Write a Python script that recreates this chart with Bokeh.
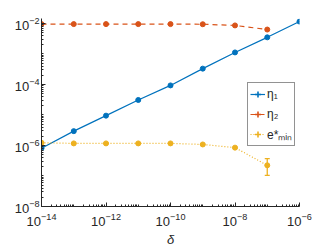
from bokeh.plotting import figure
from bokeh.models import (ColumnDataSource, FixedTicker, Legend, LegendItem, Whisker, TeeHead)
from bokeh.embed import file_html
from bokeh.resources import INLINE

# data
delta = [1e-14, 1e-13, 1e-12, 1e-11, 1e-10, 1e-9, 1e-8, 1e-7, 1e-6]
eta1 = [8.1e-7, 2.95e-6, 9.5e-6, 3.1e-5, 9.3e-5, 3.3e-4, 1.12e-3, 3.5e-3, 1.15e-2]
delta2 = [1e-14, 1e-13, 1e-12, 1e-11, 1e-10, 1e-9, 1e-8, 1e-7]
eta2 = [9.5e-3, 9.5e-3, 9.5e-3, 9.5e-3, 9.5e-3, 9.4e-3, 8.6e-3, 6.3e-3]
emin = [1.23e-6, 1.17e-6, 1.17e-6, 1.17e-6, 1.17e-6, 1.08e-6, 8.5e-7, 2.24e-7]
emin_lo = [1.2e-6, 1.15e-6, 1.15e-6, 1.15e-6, 1.15e-6, 1.05e-6, 8.2e-7, 1.05e-7]
emin_hi = [1.26e-6, 1.19e-6, 1.19e-6, 1.19e-6, 1.19e-6, 1.11e-6, 8.8e-7, 3.7e-7]

x_major = [1e-14, 1e-12, 1e-10, 1e-8, 1e-6]
y_major = [1e-8, 1e-6, 1e-4, 1e-2]
labels = ["\u03b7\u2081", "\u03b7\u2082", "e*\u2098\u1d62\u2099"]

BLUE, ORANGE, YELLOW = "#0072BD", "#D95319", "#EDB120"
AX = "#262626"
FONT = "Liberation Sans"

def minors(lo, hi):
    out = []
    for k in range(lo, hi + 1):
        for m in range(1, 10):
            out.append(m * 10.0 ** k)
    return out

p = figure(width=316, height=241, frame_width=258, frame_height=188,
           x_axis_type="log", y_axis_type="log",
           x_range=(1e-14, 1e-6), y_range=(1e-8, 1.45e-2),
           output_backend="svg", toolbar_location=None,
           min_border_left=41, min_border_right=17, min_border_top=18, min_border_bottom=35)
p.outline_line_color = None
p.grid.visible = False
p.background_fill_color = "white"

p.xaxis.ticker = FixedTicker(ticks=x_major, minor_ticks=minors(-14, -7))
p.yaxis.ticker = FixedTicker(ticks=y_major, minor_ticks=minors(-8, -2))
for ax in (p.xaxis, p.yaxis):
    ax.axis_line_color = AX
    ax.major_tick_line_color = AX
    ax.minor_tick_line_color = AX
    ax.major_tick_in = 4
    ax.major_tick_out = 0
    ax.minor_tick_in = 2
    ax.minor_tick_out = 0
    ax.major_label_text_font = FONT
    ax.major_label_text_font_size = "13px"
    ax.major_label_text_color = AX
p.xaxis.major_label_standoff = 6
p.yaxis.major_label_standoff = 2
p.xaxis.axis_label = "\u03b4"
p.xaxis.axis_label_text_font = FONT
p.xaxis.axis_label_text_font_style = "italic"
p.xaxis.axis_label_text_font_size = "13px"
p.xaxis.axis_label_text_color = AX
p.xaxis.axis_label_standoff = 3

# series
r1l = p.line(delta, eta1, line_color=BLUE, line_width=1.2)
r1s = p.scatter(delta, eta1, size=5, fill_color=BLUE, line_color=BLUE)
r2l = p.line(delta2, eta2, line_color=ORANGE, line_width=1.2, line_dash="5 4")
r2s = p.scatter(delta2, eta2, size=5, fill_color=ORANGE, line_color=ORANGE)
r3l = p.line(delta2, emin, line_color=YELLOW, line_width=1.2, line_dash="1 2")
r3s = p.scatter(delta2, emin, size=5, fill_color=YELLOW, line_color=YELLOW)

src = ColumnDataSource(dict(x=delta2, lo=emin_lo, hi=emin_hi))
p.add_layout(Whisker(source=src, base="x", lower="lo", upper="hi", dimension="height",
                     line_color=YELLOW, line_width=1.3,
                     upper_head=TeeHead(size=5, line_color=YELLOW, line_width=1.3),
                     lower_head=TeeHead(size=5, line_color=YELLOW, line_width=1.3)))

# legend error-bar glyphs (one point far outside the visible range)
off = [1e-30]
e1 = p.scatter(off, off, marker="cross", size=10, line_color=BLUE, line_width=1.6)
e2 = p.scatter(off, off, marker="cross", size=10, line_color=ORANGE, line_width=1.6)
e3 = p.scatter(off, off, marker="cross", size=10, line_color=YELLOW, line_width=1.6)

legend = Legend(items=[
    LegendItem(label=labels[0], renderers=[r1l, e1]),
    LegendItem(label=labels[1], renderers=[r2l, e2]),
    LegendItem(label=labels[2], renderers=[r3l, e3]),
], location=(206, 60))
legend.border_line_color = AX
legend.border_line_width = 1
legend.background_fill_color = "white"
legend.background_fill_alpha = 1
legend.padding = 2
legend.spacing = 2
legend.margin = 0
legend.glyph_width = 15
legend.glyph_height = 16
legend.label_height = 18
legend.label_standoff = 2
legend.label_text_font = FONT
legend.label_text_font_size = "12px"
legend.label_text_color = AX
p.add_layout(legend)

open("out.html", "w").write(file_html(p, INLINE))
